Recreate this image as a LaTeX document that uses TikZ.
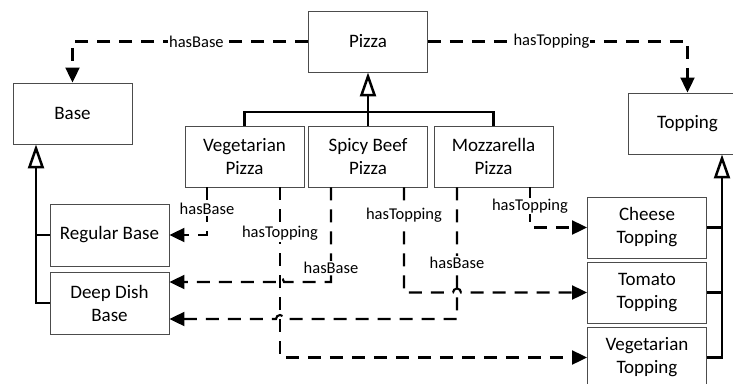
\documentclass[tikz,border=0pt]{standalone}
\usepackage{fontspec}
\setmainfont{Carlito}
\usetikzlibrary{arrows.meta}

\begin{document}
\begin{tikzpicture}[x=1pt,y=-1pt,
  box/.style={draw=black!70, line width=0.9pt, minimum width=119pt, minimum height=61pt,
    align=center, inner sep=0pt, font=\fontsize{19}{23}\selectfont},
  rel/.style={draw=black, line width=2.1pt, dash pattern=on 13pt off 9pt,
    -{Triangle[length=15pt,width=14pt]}},
  lbl/.style={fill=white, inner sep=1pt, font=\fontsize{16.5}{19}\selectfont},
  isa/.style={draw=black, line width=2.5pt, line join=miter},
  isatip/.style={isa, -{Triangle[open,length=24pt,width=16pt,fill=white]}}
]
\useasboundingbox (0,0) rectangle (733,383);
\clip (0,0) rectangle (733,383);

% classes
\node[box] (pizza)   at (368,41.5)   {Pizza};
\node[box] (base)    at (72.5,113.5) {Base};
\node[box] (topping) at (687.5,123.5){Topping};
\node[box] (vegp)    at (244.5,156.5){Vegetarian\\Pizza};
\node[box] (spicy)   at (368,156.5)  {Spicy Beef\\Pizza};
\node[box] (moz)     at (493.5,156.5){Mozzarella\\Pizza};
\node[box, minimum height=62pt] (regular) at (109.5,235) {Regular Base};
\node[box, minimum height=62pt] (deep)    at (109.5,303) {Deep Dish\\Base};
\node[box] (cheese)  at (647,227.5)  {Cheese\\Topping};
\node[box] (tomato)  at (647,292.5)  {Tomato\\Topping};
\node[box] (vegt)    at (647,357.5)  {Vegetarian\\Topping};

% subclass trees
\coordinate (bus) at (368,112);
\draw[isa] (vegp.north) |- (bus) -| (moz.north);
\draw[isatip] (spicy.north) -- (pizza.south);

\coordinate (bb) at ([xshift=-36.5pt]base.south);
\draw[isatip] (deep.west) -| (bb);
\draw[isa] (regular.west -| bb) -- (regular.west);

\coordinate (tb) at ([xshift=34.5pt]topping.south);
\draw[isatip] (vegt.east) -| (tb);
\draw[isa] (cheese.east -| tb) -- (cheese.east);
\draw[isa] (tomato.east -| tb) -- (tomato.east);

% top-level relations
\draw[rel] (pizza.west) -| node[lbl,pos=0.237]{hasBase} (base.north);
\draw[rel] (pizza.east) -| node[lbl,pos=0.238]{hasTopping} (topping.north);

% start points under the subclasses
\coordinate (vb0) at ([xshift=-37.5pt]vegp.south);
\coordinate (vt0) at ([xshift=35.5pt]vegp.south);
\coordinate (sb0) at ([xshift=-37pt]spicy.south);
\coordinate (st0) at ([xshift=36pt]spicy.south);
\coordinate (mb0) at ([xshift=-36.5pt]moz.south);
\coordinate (mt0) at ([xshift=36.5pt]moz.south);
\coordinate (sbEnd) at ([yshift=21pt]deep.east);
\coordinate (mbEnd) at ([yshift=-16pt]deep.east);

% line jumps
\coordinate (j1) at (vt0 |- sbEnd);
\coordinate (j2) at (vt0 |- mbEnd);
\coordinate (j3) at (mb0 |- tomato.west);

\draw[rel] (vb0) |- node[lbl,pos=0.23]{hasBase} (regular.east);
\draw[rel] (vt0) |- node[lbl,pos=0.135]{hasTopping} (vegt.west);
\draw[rel] (sb0) -- node[lbl,pos=0.85]{hasBase} (sb0 |- sbEnd)
  -- ([xshift=4pt]j1) arc[start angle=0,end angle=180,radius=4pt] -- (sbEnd);
\draw[rel] (st0) -- node[lbl,pos=0.265]{hasTopping} (st0 |- tomato.west)
  -- ([xshift=-4pt]j3) arc[start angle=180,end angle=0,radius=4pt] -- (tomato.west);
\draw[rel] (mb0) -- node[lbl,pos=0.57]{hasBase} (mb0 |- mbEnd)
  -- ([xshift=4pt]j2) arc[start angle=0,end angle=180,radius=4pt] -- (mbEnd);
\draw[rel] (mt0) |- node[lbl,pos=0.235]{hasTopping} (cheese.west);
\end{tikzpicture}
\end{document}
